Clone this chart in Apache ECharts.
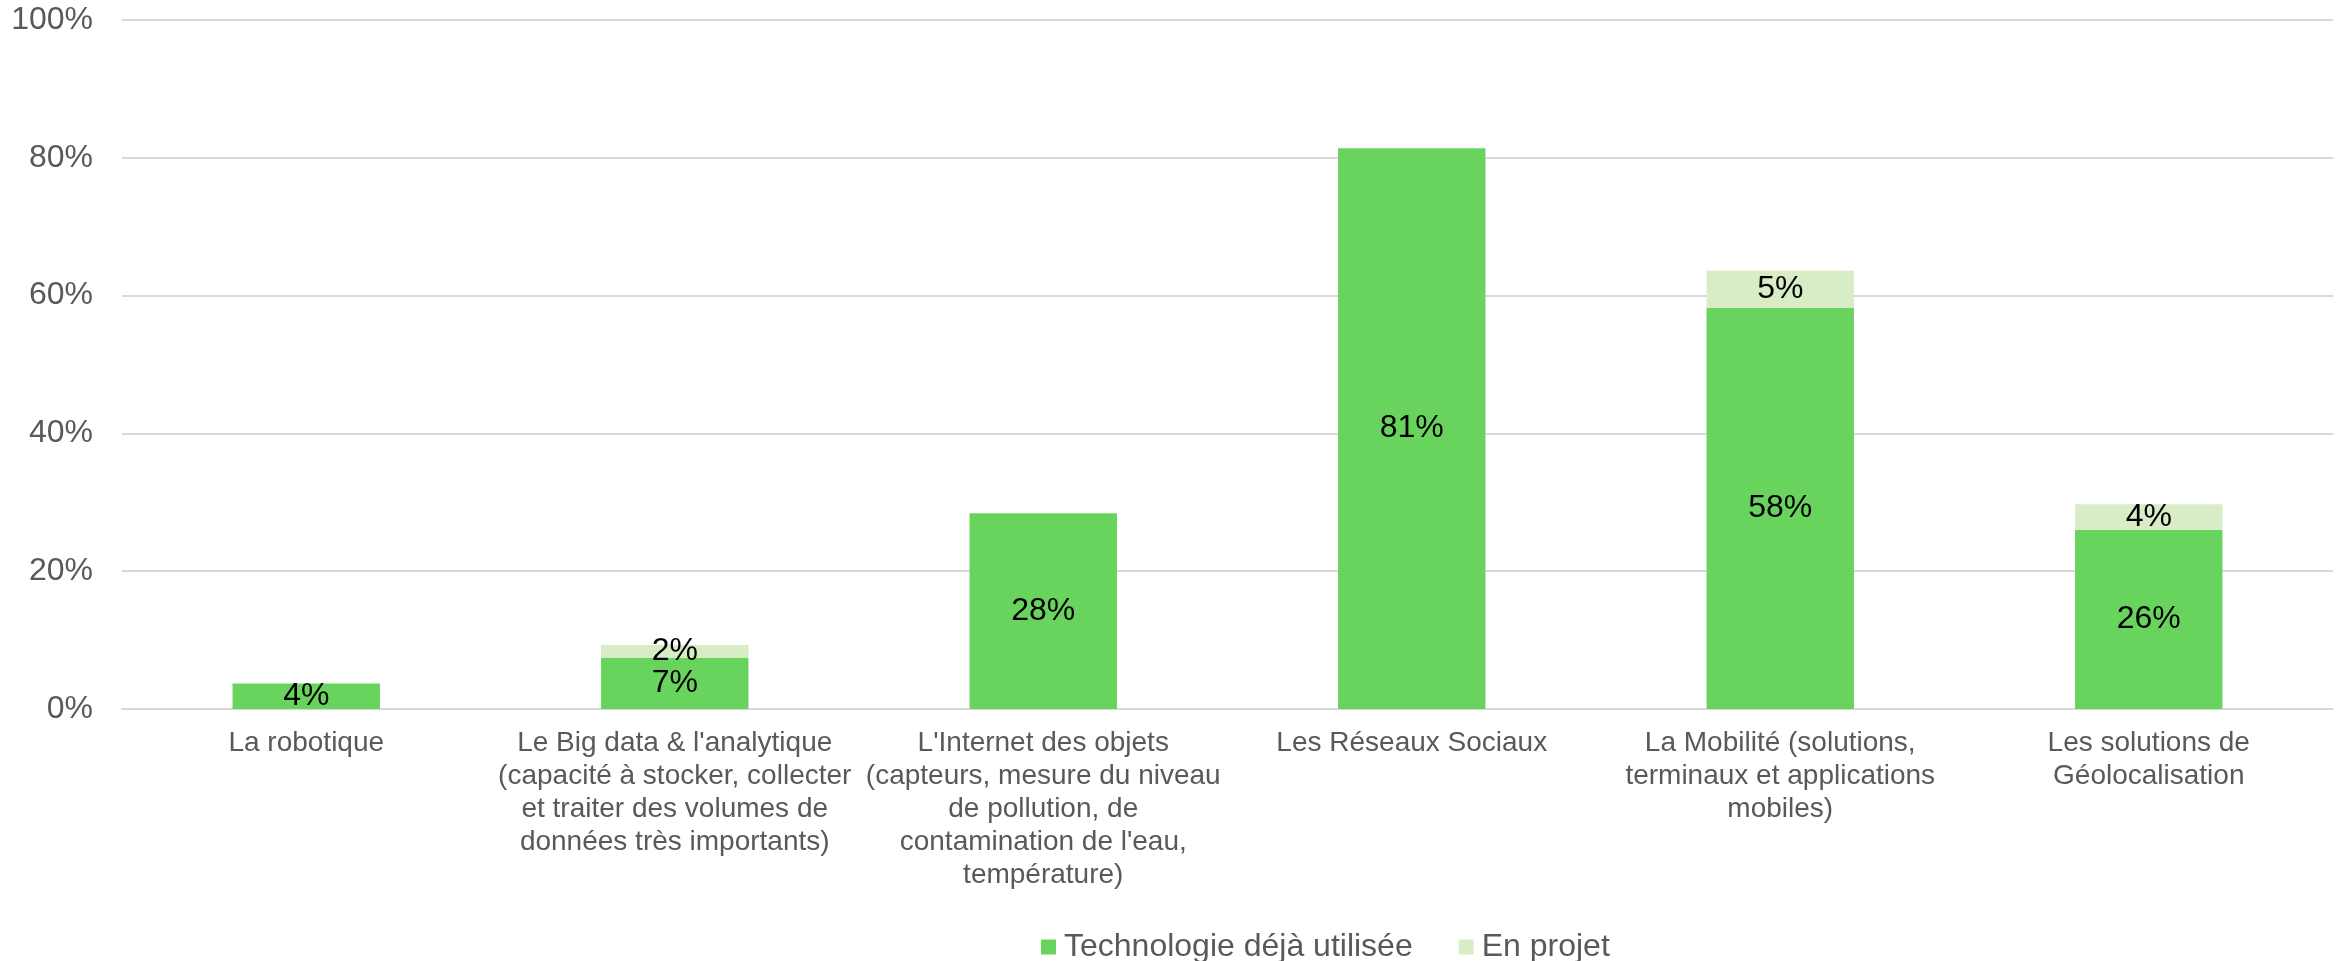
<!DOCTYPE html>
<html>
<head>
<meta charset="utf-8">
<script src="https://cdn.jsdelivr.net/npm/echarts@6/dist/echarts.min.js"></script>
<style>
html,body{margin:0;padding:0;background:#fff;}
#chart{width:2338px;height:961px;}
</style>
</head>
<body>
<div id="chart"></div>
<script>
const categories = [
  "La robotique",
  "Le Big data & l'analytique\n(capacité à stocker, collecter\net traiter des volumes de\ndonnées très importants)",
  "L'Internet des objets\n(capteurs, mesure du niveau\nde pollution, de\ncontamination de l'eau,\ntempérature)",
  "Les Réseaux Sociaux",
  "La Mobilité (solutions,\nterminaux et applications\nmobiles)",
  "Les solutions de\nGéolocalisation"
];
const dejaUtilisee = [3.7, 7.4, 28.4, 81.4, 58.2, 26.0];
const enProjet = [null, 1.9, null, null, 5.4, 3.7];
const yTicks = [0, 20, 40, 60, 80, 100];
const seriesNames = ["Technologie déjà utilisée", "En projet"];

const FONT = "'Liberation Sans', Arial, sans-serif";
const chart = echarts.init(document.getElementById('chart'), null, {renderer: 'canvas'});
const labelFmt = p => (p.value == null ? '' : Math.round(p.value) + '%');

chart.setOption({
  animation: false,
  backgroundColor: '#ffffff',
  textStyle: {fontFamily: FONT},
  grid: {left: 122, right: 5, top: 20, bottom: 252, containLabel: false},
  legend: {
    data: seriesNames,
    left: 1036,
    top: 926,
    itemWidth: 15,
    itemHeight: 15,
    itemGap: 46,
    icon: 'rect',
    textStyle: {fontFamily: FONT, fontSize: 32, color: '#595959', padding: [0, 0, 0, 3]}
  },
  xAxis: {
    type: 'category',
    data: categories,
    axisLine: {show: true, lineStyle: {color: '#D9D9D9', width: 2}},
    axisTick: {show: false},
    axisLabel: {
      interval: 0,
      margin: 18,
      fontFamily: FONT,
      fontSize: 28,
      lineHeight: 33,
      color: '#595959',
      align: 'center',
      verticalAlign: 'top'
    }
  },
  yAxis: {
    type: 'value',
    min: yTicks[0],
    max: yTicks[yTicks.length - 1],
    interval: yTicks[1] - yTicks[0],
    axisLine: {show: false},
    axisTick: {show: false},
    splitLine: {lineStyle: {color: '#D9D9D9', width: 2}},
    axisLabel: {
      formatter: v => v + '%',
      fontFamily: FONT,
      fontSize: 32,
      color: '#595959',
      margin: 29
    }
  },
  series: [
    {
      name: seriesNames[0],
      type: 'bar',
      stack: 'total',
      data: dejaUtilisee,
      barWidth: '40%',
      itemStyle: {color: '#68D45E'},
      label: {show: true, position: 'inside', formatter: labelFmt, color: '#000', fontFamily: FONT, fontSize: 32}
    },
    {
      name: seriesNames[1],
      type: 'bar',
      stack: 'total',
      data: enProjet,
      barWidth: '40%',
      itemStyle: {color: '#D8ECC5'},
      label: {show: true, position: 'inside', formatter: labelFmt, color: '#000', fontFamily: FONT, fontSize: 32}
    }
  ]
});
</script>
</body>
</html>
